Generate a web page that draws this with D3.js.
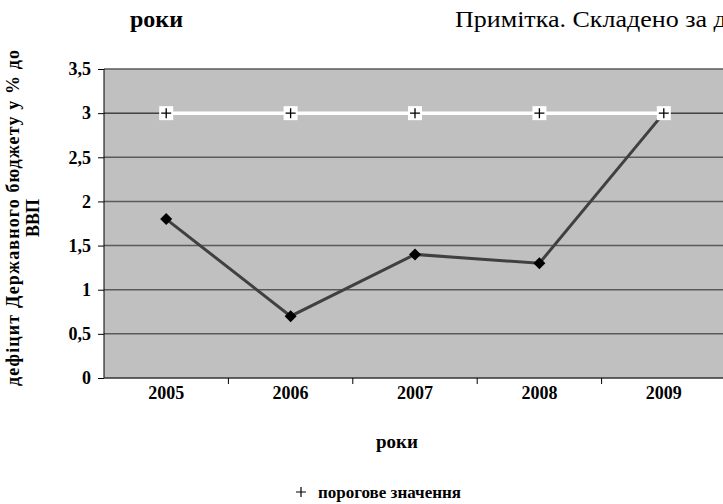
<!DOCTYPE html>
<html>
<head>
<meta charset="utf-8">
<script src="https://cdn.jsdelivr.net/npm/d3@7"></script>
<style>
  body { margin: 0; background: #fff; overflow: hidden; }
  text { font-family: "Liberation Serif", "Times New Roman", serif; }
</style>
</head>
<body>
<script>
// chart data
var years = ["2005", "2006", "2007", "2008", "2009"];
var deficit = [1.8, 0.7, 1.4, 1.3, 3.0];
var threshold = [3, 3, 3, 3, 3];
var yTicks = [0, 0.5, 1, 1.5, 2, 2.5, 3, 3.5];

var w = 723, h = 504;
var pLeft = 104, pRight = 726, pTop = 69, pBottom = 378;

var svg = d3.select("body").append("svg")
    .attr("width", w)
    .attr("height", h)
    .style("display", "block");

var x = d3.scaleBand().domain(years).range([pLeft, pRight]);
var y = d3.scaleLinear().domain([0, 3.5]).range([pBottom, pTop]);
var fmt = function(d){ return String(d).replace(".", ","); };

// heading texts
svg.append("text")
    .attr("x", 130).attr("y", 27)
    .style("font-size", "24px").style("font-weight", "bold")
    .text("роки");
var note = svg.append("text")
    .attr("transform", "translate(455,27)")
    .style("font-size", "24px")
    .text("Примітка. Складено за даними");
// stretch note so that "...за" ends where it does in the source
var noteW = note.node().getSubStringLength(0, "Примітка. Складено за".length);
note.attr("transform", "translate(455,27) scale(" + (252 / noteW) + ",1)");

// plot area
svg.append("rect")
    .attr("x", pLeft).attr("y", pTop)
    .attr("width", pRight - pLeft).attr("height", pBottom - pTop)
    .style("fill", "#c0c0c0");

// gridlines
svg.selectAll(".grid")
    .data(yTicks.filter(function(d){ return d > 0; }))
    .enter().append("line")
    .attr("class", "grid")
    .attr("x1", pLeft).attr("x2", pRight)
    .attr("y1", function(d){ return y(d); })
    .attr("y2", function(d){ return y(d); })
    .style("stroke", function(d){ return d === 3 ? "#000" : "#5a5a5a"; })
    .style("stroke-width", function(d){ return d === 3 ? 1 : 1.5; });

// y axis
var yAxis = d3.axisLeft(y).tickValues(yTicks).tickFormat(fmt).tickSize(6).tickPadding(7);
var gy = svg.append("g")
    .attr("transform", "translate(" + pLeft + ",0)")
    .attr("font-family", "Liberation Serif")
    .call(yAxis);
gy.select(".domain").attr("d", "M0," + pTop + "V" + pBottom).style("stroke", "#000");
gy.selectAll("text").style("font-size", "18px").style("font-weight", "bold");

// x axis
var xAxis = d3.axisBottom(x).tickSize(0).tickPadding(8);
var gx = svg.append("g")
    .attr("transform", "translate(0," + pBottom + ")")
    .attr("font-family", "Liberation Serif")
    .call(xAxis);
gx.select(".domain").attr("d", "M" + pLeft + ",0H" + pRight).style("stroke", "#333").style("stroke-width", 1.5);
gx.selectAll("text").style("font-size", "18px").style("font-weight", "bold");
// category boundary ticks
gx.selectAll(".bt")
    .data(years)
    .enter().append("line")
    .attr("x1", function(d){ return x(d) + x.bandwidth(); })
    .attr("x2", function(d){ return x(d) + x.bandwidth(); })
    .attr("y1", 0).attr("y2", 6)
    .style("stroke", "#000");

var cx = function(d, i){ return x(years[i]) + x.bandwidth() / 2; };

// deficit line
svg.append("path")
    .datum(deficit)
    .attr("d", d3.line().x(cx).y(function(d){ return y(d); }))
    .style("fill", "none")
    .style("stroke", "#404040")
    .style("stroke-width", 3);

svg.selectAll(".dia")
    .data(deficit)
    .enter().append("path")
    .attr("class", "dia")
    .attr("transform", function(d, i){ return "translate(" + cx(d, i) + "," + y(d) + ")"; })
    .attr("d", "M0,-6L6,0L0,6L-6,0Z")
    .style("fill", "#000");

// threshold line
svg.append("path")
    .datum(threshold)
    .attr("d", d3.line().x(cx).y(function(d){ return y(d); }))
    .style("fill", "none")
    .style("stroke", "#fff")
    .style("stroke-width", 3.5);

var marks = svg.selectAll(".thr")
    .data(threshold)
    .enter().append("g")
    .attr("transform", function(d, i){ return "translate(" + cx(d, i) + "," + y(d) + ")"; });
marks.append("rect")
    .attr("x", -7).attr("y", -7).attr("width", 14).attr("height", 14)
    .style("fill", "#fff");
marks.append("path")
    .attr("d", "M-5,0H5M0,-5V5")
    .style("stroke", "#000").style("stroke-width", 1.3);

// axis titles
svg.append("text")
    .attr("x", 397).attr("y", 448)
    .attr("text-anchor", "middle")
    .style("font-size", "19px").style("font-weight", "bold")
    .text("роки");

var yt = svg.append("text")
    .attr("transform", "translate(19,218) rotate(-90)")
    .attr("text-anchor", "middle")
    .style("font-size", "18px").style("font-weight", "bold");
yt.append("tspan").attr("x", 0).attr("dy", 0)
    .attr("textLength", 336).attr("lengthAdjust", "spacing")
    .text("дефіцит Державного бюджету у % до");
yt.append("tspan").attr("x", 0).attr("dy", 20).text("ВВП");

// legend
svg.append("path")
    .attr("d", "M296,492H306M301,487V497")
    .style("stroke", "#000").style("stroke-width", 1.2);
svg.append("text")
    .attr("x", 318).attr("y", 498)
    .style("font-size", "17px").style("font-weight", "bold")
    .text("порогове значення");
</script>
</body>
</html>
